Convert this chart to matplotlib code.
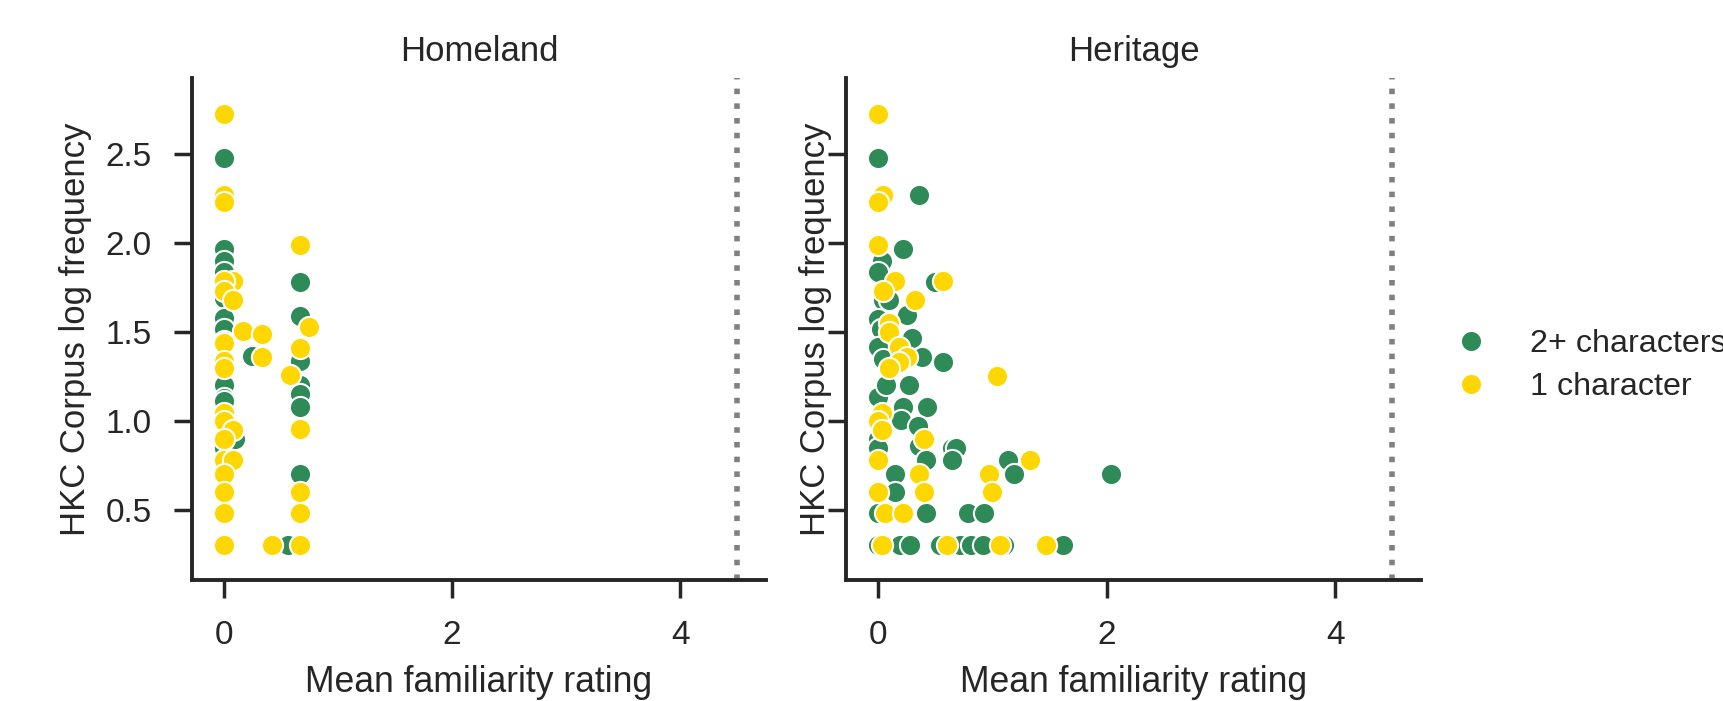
import matplotlib
matplotlib.use("Agg")
import matplotlib.pyplot as plt
from matplotlib.lines import Line2D

plt.rcParams['font.family'] = ['Liberation Sans', 'DejaVu Sans']

panels = ["Homeland", "Heritage"]
groups = ["2+ characters", "1 character"]
colors = {"2+ characters": "#2e8b57", "1 character": "#ffd700"}
cutoff = 4.5

# Homeland panel
home_multi_x = [0, 0, 0, 0, 0, 0, 0, 0, 0, 0, 0, 0, 0.1, 0, 0.56, 0.245,
                0.667, 0.667, 0.667, 0.667, 0.667, 0.667, 0.667]
home_multi_y = [2.48, 1.97, 1.90, 1.84, 1.69, 1.58, 1.52, 1.20, 1.13, 1.08, 1.11, 0.85, 0.90, 1.45, 0.30, 1.365,
                1.78, 1.59, 1.34, 1.20, 1.15, 1.08, 0.70]
home_single_x = [0, 0, 0, 0.08, 0, 0, 0.08, 0.166, 0.33, 0, 0.33, 0, 0, 0, 0, 0.08, 0, 0, 0.08, 0, 0, 0, 0,
                 0.42, 0.667, 0.667, 0.75, 0.667, 0.58, 0.667, 0.667, 0.667]
home_single_y = [2.73, 2.27, 2.23, 1.79, 1.79, 1.73, 1.68, 1.505, 1.49, 1.44, 1.36, 1.34, 1.30, 1.045, 1.0, 0.95,
                 0.90, 0.78, 0.78, 0.70, 0.60, 0.48, 0.30,
                 0.30, 0.30, 1.99, 1.53, 1.41, 1.26, 0.955, 0.60, 0.48]

# Heritage panel
her_multi_x = [0, 0.36, 0.215, 0.035, 0, 0.50, 0.045, 0.1, 0.25, 0, 0.03, 0.30, 0, 0.04, 0.385, 0.57,
               0, 0.07, 0.27, 0.22, 0.43, 0.2, 0.35, 0, 0.36, 0.65, 0.68, 0.65, 0, 0.42, 1.14,
               0.15, 1.19, 2.04, 0.15, 0, 0.42, 0.79, 0.93,
               0, 0.195, 0.28, 0.545, 0.72, 0.81, 0.92, 1.10, 1.62]
her_multi_y = [2.48, 2.27, 1.97, 1.90, 1.84, 1.78, 1.68, 1.68, 1.595, 1.575, 1.52, 1.465, 1.417, 1.35, 1.36, 1.33,
               1.137, 1.20, 1.20, 1.08, 1.08, 1.005, 0.97, 0.90, 0.86, 0.85, 0.85, 0.78, 0.85, 0.78, 0.78,
               0.70, 0.70, 0.70, 0.60, 0.48, 0.48, 0.48, 0.48,
               0.30, 0.30, 0.30, 0.30, 0.30, 0.30, 0.30, 0.30, 0.30]
her_single_x = [0, 0.04, 0, 0, 0.145, 0.57, 0.04, 0.326, 0.095, 0.1, 0.18, 0.25, 0.18, 0.1, 1.04,
                0.035, 0, 0.035, 0.4, 0, 1.33, 0.36, 0.97, 0, 0.4, 1.0, 0.065, 0.215,
                0.035, 0.6, 1.07, 1.47]
her_single_y = [2.73, 2.27, 2.23, 1.99, 1.79, 1.79, 1.73, 1.68, 1.55, 1.50, 1.417, 1.36, 1.333, 1.30, 1.255,
                1.045, 1.0, 0.95, 0.90, 0.78, 0.78, 0.70, 0.70, 0.60, 0.60, 0.60, 0.48, 0.48,
                0.30, 0.30, 0.30, 0.30]

data = {
    "Homeland": {"2+ characters": (home_multi_x, home_multi_y), "1 character": (home_single_x, home_single_y)},
    "Heritage": {"2+ characters": (her_multi_x, her_multi_y), "1 character": (her_single_x, her_single_y)},
}

fig = plt.figure(figsize=(8.615, 3.505), dpi=200)
axes = [fig.add_axes([0.1114, 0.1726, 0.3331, 0.716]),
        fig.add_axes([0.491, 0.1726, 0.3337, 0.716])]

ink = "#262626"
for i, (ax, name) in enumerate(zip(axes, panels)):
    for g in groups:
        xs, ys = data[name][g]
        ax.scatter(xs, ys, s=58, color=colors[g], edgecolor="white", linewidth=0.75, zorder=3)
    ax.axvline(cutoff, color="gray", linestyle=":", linewidth=2, zorder=2)
    ax.set_xlim(-0.28, 4.75)
    ax.set_ylim(0.105, 2.93)
    ax.set_xticks([0, 2, 4])
    ax.set_yticks([0.5, 1.0, 1.5, 2.0, 2.5])
    ax.set_title(name, fontsize=12.5, color=ink)
    ax.set_xlabel("Mean familiarity rating", fontsize=12.8, color=ink, labelpad=5)
    ax.set_ylabel("HKC Corpus log frequency", fontsize=12.5, color=ink, labelpad=5)
    for side in ["top", "right"]:
        ax.spines[side].set_visible(False)
    for side in ["left", "bottom"]:
        ax.spines[side].set_linewidth(1.4)
        ax.spines[side].set_color(ink)
    ax.tick_params(length=6.5, width=1.25, color=ink, labelcolor=ink, labelsize=12, pad=8)
    if i == 1:
        # shared y: labels hidden, axis label sits right at the spine as in a facet grid
        for t in ax.get_yticklabels():
            t.set_visible(False)
        ax.yaxis.set_label_coords(-0.025, 0.5)

handles = [Line2D([], [], marker="o", linestyle="", markersize=7.6, markerfacecolor=colors[g],
                  markeredgecolor="white", markeredgewidth=0.75) for g in groups]
fig.legend(handles, groups, loc="center left", bbox_to_anchor=(0.818, 0.478), frameon=False,
           fontsize=11.6, labelspacing=0.4, handletextpad=0.85, labelcolor=ink)

plt.savefig("out.png", dpi=200)
